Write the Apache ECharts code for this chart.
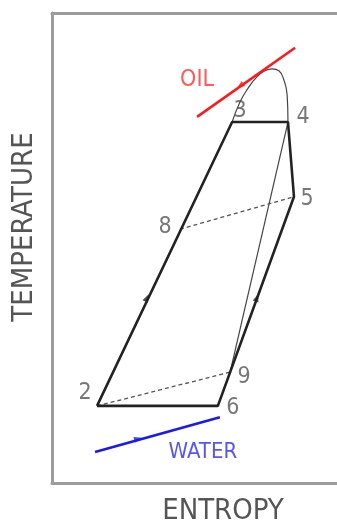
<!DOCTYPE html>
<html><head><meta charset="utf-8">
<script src="https://cdn.jsdelivr.net/npm/echarts@6/dist/echarts.min.js"></script>
<style>html,body{margin:0;padding:0;background:#fff}#c{width:337px;height:524px}</style>
</head><body><div id="c"></div>
<script>
// State points of the cycle (entropy, temperature in arbitrary units)
const stateNames = ['2', '3', '4', '5', '6', '8', '9'];
const stateS = [15.8, 63.2, 82.8, 84.9, 58.2, 44.9, 62.5];
const stateT = [16.4, 76.8, 76.8, 60.9, 16.4, 54.0, 23.6];
// Saturation dome (from point 3 over the top to point 4)
const domeS = [63.2, 66.0, 68.8, 71.9, 74.7, 77.2, 79.6, 81.4, 82.5, 82.8];
const domeT = [76.8, 81.1, 84.0, 86.4, 87.7, 88.1, 87.7, 85.7, 82.6, 76.8];
// Heat source / sink streams
const oilS = [50.9, 85.3];
const oilT = [77.9, 92.6];
const waterS = [15.1, 58.9];
const waterT = [6.6, 14.0];
// Flow direction arrows
const arrowS = [33.3, 71.9, 66.0, 30.2];
const arrowT = [39.4, 39.4, 84.5, 9.4];
const axisTitles = ['ENTROPY', 'TEMPERATURE'];
const streamNames = ['OIL', 'WATER'];

// ---- layout / style ----
const FONT = "'Liberation Sans Narrow', 'DejaVu Sans Condensed', sans-serif";
const labelOffsets = {'2': [-12, -13], '3': [8, -11], '4': [15, -5], '5': [13, 2], '6': [15, 2], '8': [-15, -2], '9': [14, 5]};
const arrowRot = [-25.4, -20, 125, -74.4];
const arrowCol = ['#222', '#222', '#ff1a1a', '#1a1aee'];
const frameLine = {show: true, onZero: false, lineStyle: {color: '#9c9c9c', width: 3}};

const idx = n => stateNames.indexOf(n);
const pt = n => [stateS[idx(n)], stateT[idx(n)]];
const pathOf = names => names.map(pt);
const zip = (a, b) => a.map((v, i) => [v, b[i]]);

const chart = echarts.init(document.getElementById('c'));
chart.setOption({
  animation: false,
  grid: {left: 52, top: 13, right: 0, bottom: 41},
  xAxis: [
    {type: 'value', min: 0, max: 100, position: 'bottom', axisLine: frameLine, axisTick: {show: false}, axisLabel: {show: false}, splitLine: {show: false}},
    {type: 'value', min: 0, max: 100, position: 'top', axisLine: frameLine, axisTick: {show: false}, axisLabel: {show: false}, splitLine: {show: false}}
  ],
  yAxis: {type: 'value', min: 0, max: 100, position: 'left', axisLine: frameLine, axisTick: {show: false}, axisLabel: {show: false}, splitLine: {show: false}},
  graphic: [
    {type: 'text', x: 223, y: 511, style: {text: axisTitles[0], align: 'center', verticalAlign: 'middle', fill: '#555', font: '29px ' + FONT}},
    {type: 'text', x: 24, y: 227, rotation: Math.PI / 2, style: {text: axisTitles[1], align: 'center', verticalAlign: 'middle', fill: '#555', font: '29px ' + FONT}}
  ],
  series: [
    {type: 'line', data: zip(domeS, domeT), smooth: 0.5, symbol: 'none', lineStyle: {color: '#444', width: 1.2}, z: 2},
    {type: 'line', data: pathOf(['4', '9']), symbol: 'none', lineStyle: {color: '#444', width: 1.2}, z: 2},
    {type: 'line', data: pathOf(['8', '5']), symbol: 'none', lineStyle: {color: '#555', width: 1.3, type: [4, 3]}, z: 2},
    {type: 'line', data: pathOf(['2', '9']), symbol: 'none', lineStyle: {color: '#555', width: 1.3, type: [4, 3]}, z: 2},
    {type: 'line', data: pathOf(['2', '3', '4', '5', '6', '2']), symbol: 'none', lineStyle: {color: '#222', width: 2.6}, z: 3},
    {type: 'line', data: zip(oilS, oilT), symbol: 'none', lineStyle: {color: '#ff1a1a', width: 2.6}, z: 3},
    {type: 'line', data: zip(waterS, waterT), symbol: 'none', lineStyle: {color: '#1a1aee', width: 2.6}, z: 3},
    {type: 'scatter', symbol: 'triangle', z: 4,
      data: arrowS.map((s, i) => ({value: [s, arrowT[i]], symbolRotate: arrowRot[i], symbolSize: [6, 8], itemStyle: {color: arrowCol[i]}}))},
    {type: 'scatter', symbolSize: 0, z: 5,
      data: stateNames.map((n, i) => ({value: [stateS[i], stateT[i]], name: n,
        label: {show: true, position: 'inside', offset: labelOffsets[n], formatter: n, color: '#555', fontSize: 23, fontFamily: FONT}}))},
    {type: 'scatter', symbolSize: 0, z: 5,
      data: [
        {value: [oilS[0], oilT[0]], label: {show: true, position: 'inside', offset: [0, -37], formatter: streamNames[0], color: '#ff3030', fontSize: 23, fontFamily: FONT}},
        {value: [waterS[1], waterT[1]], label: {show: true, position: 'inside', offset: [-17, 35], formatter: streamNames[1], color: '#2a2aee', fontSize: 22, fontFamily: FONT}}
      ]}
  ]
});
</script></body></html>
